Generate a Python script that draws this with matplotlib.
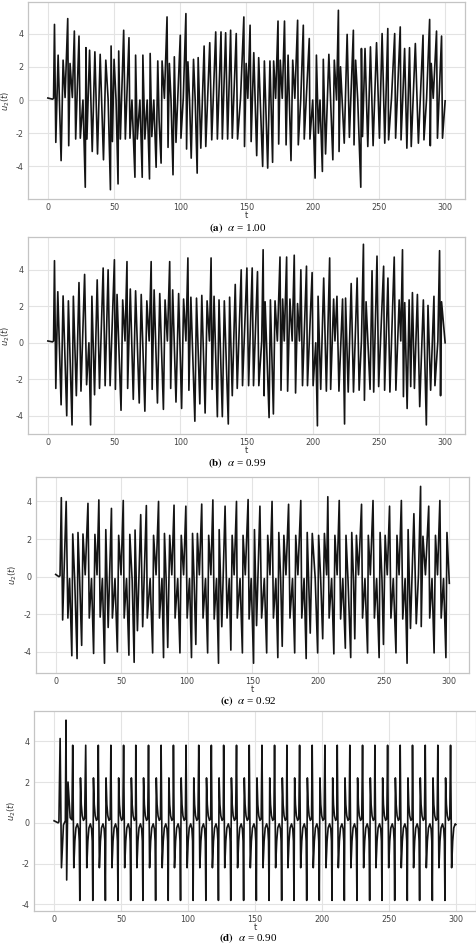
import matplotlib
matplotlib.use("Agg")
import matplotlib.pyplot as plt

# ---- panel (a), alpha = 1.00 : turning points of u2(t)
A_T = [0, 3.5, 4.3, 5.0, 6.0, 7.75, 10.0, 11.5, 13.0, 15.0, 15.75, 16.75, 18.5,
       20.0, 21.0, 23.5, 24.5, 26.5, 28.25, 28.75, 29.5, 31.5, 33.5, 35.5, 37.5,
       39.5, 42.0, 43.75, 45.5, 47.25, 47.75, 48.75, 50.0, 51.5, 53.0, 53.5, 54.75,
       57.25, 58.5, 61.25, 62.0, 63.5, 65.75, 66.25, 67.5, 69.5, 71.25, 71.75, 73.25,
       75.0, 76.75, 77.25, 78.5, 80.0, 81.75, 83.0, 84.0, 85.5, 86.25, 88.0, 90.0,
       90.75, 91.75, 93.0, 94.5, 95.5, 96.75, 100.0, 100.5, 102.25, 104.25, 104.75,
       105.75, 107.0, 108.25, 110.0, 111.25, 112.75, 113.5, 115.5, 118.0, 119.25,
       122.25, 123.75, 126.75, 128.0, 130.75, 131.75, 134.25, 135.75, 138.0, 139.25,
       142.25, 143.25, 145.5, 148.0, 148.5, 149.75, 151.0, 152.7, 153.5, 155.5, 157.7,
       159.2, 162.2, 163.5, 166.0, 167.7, 169.7, 170.5, 172.0, 173.8, 174.3, 175.5,
       177.0, 178.7, 179.9, 181.4, 183.6, 184.9, 186.5, 188.6, 189.1, 191.0, 192.9,
       193.6, 197.4, 197.9, 200.0, 201.8, 202.8, 204.3, 205.5, 207.3, 208.0, 209.7,
       212.2, 215.2, 216.3, 218.0, 219.4, 219.9, 221.0, 223.8, 226.0, 227.7, 230.7,
       231.2, 232.4, 234.0, 236.3, 236.8, 237.6, 239.5, 241.6, 243.6, 245.6, 248.2,
       250.4, 252.4, 254.4, 256.7, 257.3, 259.5, 261.9, 262.6, 266.1, 266.7, 268.0,
       269.4, 271.1, 273.1, 274.4, 277.5, 279.8, 283.3, 284.0, 286.0, 288.3, 288.8,
       289.5, 291.0, 293.5, 294.2, 297.3, 298.0, 300.0]
A_U = [0.12, 0.05, 0.1, 4.55, -2.55, 2.7, -3.65, 2.4, 0.15, 4.9, -2.75, 2.2, 0.15,
       4.15, -2.35, 3.85, -2.3, 0.0, -5.25, 3.15, -2.35, 3.0, -3.1, 2.9, -3.25,
       2.75, -3.6, 2.4, 0.05, -5.4, 3.25, -2.5, 2.45, 0.0, -5.05, 2.95, -2.35,
       4.2, -2.35, 3.75, -2.3, 0.0, -4.65, 2.7, -2.35, 0.0, -4.65, 2.7, -2.35,
       0.0, -4.75, 2.8, -2.2, 0.0, -4.05, 2.35, -1.2, -3.8, 2.35, 0.1, 5.0,
       -2.85, 2.2, 0.0, -4.5, 2.6, -2.55, 3.9, -2.3, 0.1, 5.2, -2.95,
       2.3, 0.0, -3.5, 2.45, 0.0, -4.4, 2.55, -2.9, 3.25, -2.8,
       3.45, -2.4, 4.1, -2.35, 4.1, -2.35, 4.05, -2.35, 4.2, -2.3,
       4.0, -2.35, 0.1, 5.0, -2.8, 2.2, 0.1, 4.5, -2.5, 2.85, -3.35,
       2.55, -4.0, 2.35, -4.1, 2.35, -3.75, 2.35, 0.1, 4.75, -2.65, 2.4,
       0.1, 4.75, -2.7, 2.7, -3.65, 2.4, 0.1, 4.8, -2.7, 0.1, 4.5,
       -2.35, 3.7, -2.35, 0.0, -4.7, 2.7, -2.0, 0.0, -4.3, 2.45, -3.25,
       2.75, -3.6, 2.4, 0.0, 5.4, -3.1, 2.0, -2.6, 3.95, -2.25, 4.2,
       -2.7, 2.4, 0.0, -5.25, 3.1, -2.2, 3.1, -2.8, 3.2, -2.75, 3.45,
       -2.3, 4.0, -2.6, 4.3, -2.4, 0.1, 4.0, -2.3, 4.4, -2.4, 0.1,
       3.1, -2.9, 3.15, -2.8, 3.4, -2.6, 3.9, -2.4, 0.1, 4.85, -2.75,
       2.2, 0.1, 4.15, -2.3, 3.85, -2.3, -0.05]

# ---- panel (b), alpha = 0.99
B_T = [0, 3.5, 4.3, 5.0, 6.0, 7.5, 10.0, 11.5, 14.25, 15.5, 18.25, 19.25, 21.5,
       23.5, 25.0, 27.75, 29.25, 31.0, 32.25, 33.25, 35.25, 37.25, 39.0, 41.75,
       43.25, 45.5, 47.0, 50.25, 51.0, 52.25, 55.25, 56.5, 58.25, 59.75, 60.25,
       62.25, 64.5, 66.25, 69.0, 70.5, 73.25, 74.75, 76.5, 78.0, 78.75, 80.25,
       82.75, 84.5, 87.25, 88.5, 90.25, 92.0, 92.75, 94.25, 96.75, 98.75, 101.0,
       102.5, 104.25, 105.75, 106.5, 108.0, 111.0, 112.25, 114.75, 116.25, 118.75,
       120.25, 122.0, 123.25, 124.0, 125.5, 128.0, 129.25, 131.75, 133.25, 136.25,
       137.25, 139.25, 141.5, 143.0, 146.0, 147.0, 150.3, 151.6, 154.3, 155.3,
       158.3, 159.3, 161.5, 162.55, 163.3, 164.05, 167.05, 168.05, 170.3, 171.55,
       173.3, 175.3, 176.05, 177.3, 178.5, 180.3, 181.05, 182.8, 184.5, 186.05,
       187.05, 188.55, 190.0, 191.05, 192.3, 195.3, 196.05, 199.55, 200.3, 202.3,
       203.55, 204.05, 206.05, 208.3, 210.3, 212.8, 213.55, 215.8, 216.8, 218.3,
       219.8, 222.55, 224.05, 224.8, 226.8, 229.05, 230.8, 233.55, 235.05, 236.8,
       238.3, 239.05, 240.3, 243.3, 244.8, 246.05, 248.55, 249.8, 253.55, 254.3,
       256.8, 258.3, 261.55, 262.8, 265.3, 266.5, 267.8, 268.5, 269.5, 271.3,
       272.8, 274.0, 275.3, 276.8, 279.05, 280.8, 283.55, 285.8, 287.05, 289.05,
       291.55, 292.3, 294.5, 295.8, 296.55, 297.3, 300.0]
B_U = [0.1, 0.05, 0.1, 4.5, -2.5, 2.8, -3.4, 2.57, -4.0, 2.3, -4.5, 2.55, -2.9,
       3.3, -2.65, 3.75, -2.3, 0.0, -4.5, 2.55, -2.85, 3.45, -2.5, 4.1,
       -2.35, 4.0, -2.35, 4.55, -2.55, 2.65, -3.7, 2.35, 0.1, 4.45, -2.5,
       2.95, -3.1, 2.85, -3.3, 2.65, -3.75, 2.3, 0.1, 4.45, -2.55, 2.9,
       -3.3, 2.7, -3.65, 2.35, 0.1, 4.45, -2.5, 2.9, -3.25, 2.7, -3.6,
       2.4, 0.1, 4.65, -2.6, 2.5, -4.3, 2.45, -3.35, 2.6, -3.85,
       2.3, 0.1, 4.65, -2.55, 2.55, -4.05, 2.35, -4.05, 2.3, -4.45,
       2.5, -2.9, 3.2, -2.5, 4.0, -2.35, 4.1, -2.35, 4.1, -2.35,
       3.9, -2.35, 0.1, 5.1, -2.9, 2.25, -4.1, 2.35, -3.9, 2.3,
       0.1, 4.7, -2.6, 2.4, 0.1, 4.7, -2.65, 2.4, 0.1, 4.8,
       -2.75, 2.15, 0.1, 4.0, -2.35, 4.2, -2.35, 3.85, -2.35, 0.0,
       -4.55, 2.55, -2.55, 3.55, -2.65, 4.65, -2.55, 2.4, 0.1, 2.55,
       -2.65, 2.4, -4.45, 2.45, -2.7, 3.25, -2.7, 3.55, -2.6, 0.1,
       5.4, -3.15, 2.25, -2.55, 3.95, -2.7, 4.75, -2.4, 4.2, -2.6,
       3.55, -2.7, 4.7, -2.6, 2.35, 0.1, 5.1, -2.95, 2.2, -3.6,
       2.35, -2.4, 2.75, -2.5, 2.65, -3.5, 2.35, -4.5, 2.05, -2.6,
       2.55, -2.35, 0.1, 5.05, -2.9, 2.25, 0.0]

# ---- panel (c), alpha = 0.92
C_T = [0, 2.5, 3.3, 4.3, 5.3, 8.0, 9.3, 10.6, 12.3, 13.0, 14.5, 16.3, 17.0, 18.3,
       19.8, 20.8, 22.5, 24.6, 25.6, 27.3, 28.9, 29.9, 31.5, 32.9, 33.9, 35.6,
       37.2, 38.2, 40.0, 42.5, 43.2, 45.2, 47.0, 48.0, 49.8, 51.5, 52.2, 54.0,
       55.8, 56.5, 58.3, 59.8, 60.5, 62.3, 64.8, 66.3, 69.1, 69.8, 72.0, 73.9,
       74.6, 76.5, 78.4, 79.1, 81.0, 82.2, 82.9, 84.2, 85.4, 86.9, 88.5, 90.2,
       91.0, 93.0, 94.7, 95.7, 97.5, 99.2, 100.2, 102.0, 103.5, 104.3, 105.5,
       106.8, 108.0, 109.5, 111.3, 112.3, 114.2, 115.8, 116.6, 118.3, 119.8,
       120.8, 122.6, 124.1, 124.6, 126.6, 129.1, 130.6, 132.3, 133.5, 134.5,
       136.0, 137.8, 138.4, 140.5, 142.3, 142.8, 144.5, 146.65, 147.4, 149.0,
       150.8, 151.5, 153.1, 155.65, 156.95, 159.0, 160.8, 161.6, 163.3, 164.9,
       165.95, 167.8, 169.3, 170.05, 171.5, 172.65, 173.9, 175.5, 177.5, 178.55,
       180.5, 182.15, 182.95, 184.6, 186.8, 187.55, 189.3, 190.9, 191.7, 194.0,
       195.55, 197.8, 199.65, 200.4, 202.0, 203.5, 204.8, 206.5, 207.4, 208.4,
       210.3, 212.0, 212.8, 214.5, 216.1, 217.15, 218.8, 220.75, 221.25, 222.8,
       224.85, 225.65, 227.0, 227.95, 229.2, 230.8, 233.1, 233.85, 235.7, 237.7,
       238.25, 239.8, 241.85, 242.9, 244.6, 246.5, 247.25, 248.7, 249.8, 251.1,
       252.7, 254.45, 255.5, 257.3, 259.35, 260.1, 261.7, 263.45, 264.5, 266.3,
       267.8, 268.6, 270.4, 273.0, 274.8, 276.5, 278.1, 278.6, 279.9, 281.8,
       284.3, 285.05, 286.8, 288.4, 289.45, 291.0, 292.8, 293.8, 295.6, 297.4,
       298.2, 300.0]
C_U = [0.12, 0.0, 0.05, 4.2, -2.3, 4.0, -2.2, -0.1, -4.2, 2.27, -0.2, -4.35, 2.35, -0.2,
       -3.65, 2.27, 0.1, 3.9, -2.2, -0.1, -4.08, 2.25, 0.1, 4.08, -2.15, -0.1,
       -4.6, 2.5, -2.7, 3.63, -2.2, -0.1, -4.0, 2.2, 0.1, 4.05, -2.2, -0.1,
       -4.17, 2.25, -0.2, -4.55, 2.48, -2.87, 3.3, -2.66, 3.78, -2.2, -0.1, -4.05,
       2.2, 0.1, 4.0, -2.2, -0.1, -4.3, 2.3, -0.2, -3.76, 2.2, 0.1, 3.8,
       -2.2, -0.1, -4.05, 2.2, 0.1, 3.75, -2.2, -0.1, -4.3, 2.3, -0.2,
       -3.6, 2.3, 0.1, 3.86, -2.2, -0.1, -4.05, 2.2, 0.1, 4.08,
       -2.25, -0.1, -4.6, 2.5, -2.66, 3.75, -2.2, -0.1, -3.9, 2.2,
       0.1, 4.0, -2.2, -0.1, -4.05, 2.2, 0.1, 4.1, -2.25, -0.1,
       -4.6, 2.5, -2.6, 3.75, -2.2, -0.1, -4.05, 2.2, 0.1, 4.0,
       -2.2, -0.1, -4.3, 2.35, -0.2, -3.7, 2.2, 0.1, 3.85, -2.2,
       -0.1, -4.05, 2.2, 0.1, 4.05, -2.2, -0.1, -4.35, 2.35, -3.0,
       2.3, -0.1, -4.05, 2.2, -0.2, -3.3, 2.3, 0.1, 4.25, -2.2,
       -0.1, -4.1, 2.2, 0.1, 4.05, -2.25, -0.1, -3.8, 2.2, -0.2,
       -4.3, 2.35, -0.2, -3.3, 2.2, 0.1, 3.85, -2.2, -0.1, -4.05,
       2.2, 0.1, 4.05, -2.2, -0.1, -4.3, 2.35, -0.2, -3.6, 2.2,
       0.1, 3.75, -2.2, -0.1, -4.05, 2.2, 0.1, 4.05, -2.25, -0.1,
       -4.6, 2.5, -2.75, 3.35, -2.5, 0.1, 4.8, -2.65, 2.15, 0.1,
       3.75, -2.2, -0.1, -4.05, 2.2, 0.1, 4.05, -2.2, -0.1, -4.3,
       2.35, -0.35]

# ---- panel (d), alpha = 0.90: start-up transient, then a repeating cycle
D_HEAD_T = [0, 3.0, 3.6, 4.5, 5.5, 7.0, 8.4, 8.9, 9.4, 10.4, 12.0, 13.3]
D_HEAD_U = [0.1, 0.0, 0.05, 4.13, -2.2, -0.1, 0.1, 5.03, -2.8, 2.0, 0.25, 0.15]
D_PEAK_T = [13.9, 23.6, 33.0, 42.4, 51.9, 61.0, 70.5, 79.9, 89.1, 98.5, 108.0,
            117.4, 126.6, 136.2, 145.7, 155.2, 164.6, 173.8, 183.3, 192.7, 202.2,
            211.4, 220.8, 230.3, 239.5, 249.0, 258.4, 267.6, 277.1, 286.5, 296.0]
# one cycle, offsets from its 3.8 peak
D_CYCLE_DT = [0.0, 0.8, 1.6, 2.4, 3.5, 4.4, 4.9, 5.3, 5.8, 6.4, 7.1, 8.0, 8.9]
D_CYCLE_U = [3.8, -2.2, -0.9, -0.25, -0.05, -0.3, -0.9, -3.8, 2.2, 0.9, 0.35, 0.12, 0.2]
D_END = (300.0, -0.08)

CAPTIONS = [r"$\mathbf{(a)}$  $\alpha$ = 1.00", r"$\mathbf{(b)}$  $\alpha$ = 0.99",
            r"$\mathbf{(c)}$  $\alpha$ = 0.92", r"$\mathbf{(d)}$  $\alpha$ = 0.90"]

plt.rcParams.update({
    "font.family": "DejaVu Sans",
    "mathtext.fontset": "dejavusans",
    "axes.unicode_minus": False,
    "axes.edgecolor": "#c4c4c4",
    "axes.linewidth": 0.9,
    "grid.color": "#e3e3e3",
    "grid.linewidth": 0.8,
    "xtick.color": "#444444",
    "ytick.color": "#444444",
    "xtick.major.size": 0,
    "ytick.major.size": 0,
    "xtick.major.pad": 3.0,
    "ytick.major.pad": 3.5,
    "xtick.labelsize": 5.8,
    "ytick.labelsize": 5.8,
    "axes.labelsize": 6.0,
    "axes.labelcolor": "#333333",
})


def d_series():
    t = list(D_HEAD_T)
    u = list(D_HEAD_U)
    for p in D_PEAK_T:
        for dt, v in zip(D_CYCLE_DT, D_CYCLE_U):
            if p + dt < D_END[0]:
                t.append(p + dt)
                u.append(v)
    t.append(D_END[0])
    u.append(D_END[1])
    return t, u


def draw_panel(fig, rect, t, u, ylim, caption, cap_xy, ylab_x):
    ax = fig.add_axes(rect)
    ax.plot(t, u, color="#141414", lw=1.2)
    ax.set_xlim(-15, 315)
    ax.set_ylim(*ylim)
    ax.set_xticks(range(0, 301, 50))
    ax.set_yticks([-4, -2, 0, 2, 4])
    ax.grid(True)
    ax.set_axisbelow(True)
    ax.set_xlabel("t", labelpad=-1)
    ax.set_ylabel(r"$u_2(t)$")
    # anchor is the right edge of the rotated label
    ax.yaxis.set_label_coords(ylab_x, 0.5)
    fig.text(cap_xy[0], cap_xy[1], caption, ha="center", va="center",
             fontsize=8, family="Liberation Serif", math_fontfamily="stix")
    return ax


W, H = 477, 947
fig = plt.figure(figsize=(W / 100, H / 100), dpi=100)


def rect(left, right, top, bottom):
    return [left / W, 1 - bottom / H, (right - left) / W, (bottom - top) / H]


d_t, d_u = d_series()
draw_panel(fig, rect(28, 465, 2, 199), A_T, A_U, (-5.96, 5.9), CAPTIONS[0],
           (238 / W, 1 - 228 / H), -0.036)
draw_panel(fig, rect(28, 465, 237, 434), B_T, B_U, (-5.0, 5.8), CAPTIONS[1],
           (237 / W, 1 - 463 / H), -0.036)
draw_panel(fig, rect(36, 469, 477, 673), C_T, C_U, (-5.12, 5.3), CAPTIONS[2],
           (248 / W, 1 - 701 / H), -0.039)
draw_panel(fig, rect(34, 476, 711, 911), d_t, d_u, (-4.32, 5.48), CAPTIONS[3],
           (248 / W, 1 - 938 / H), -0.036)

fig.savefig("out.png", dpi=100)
